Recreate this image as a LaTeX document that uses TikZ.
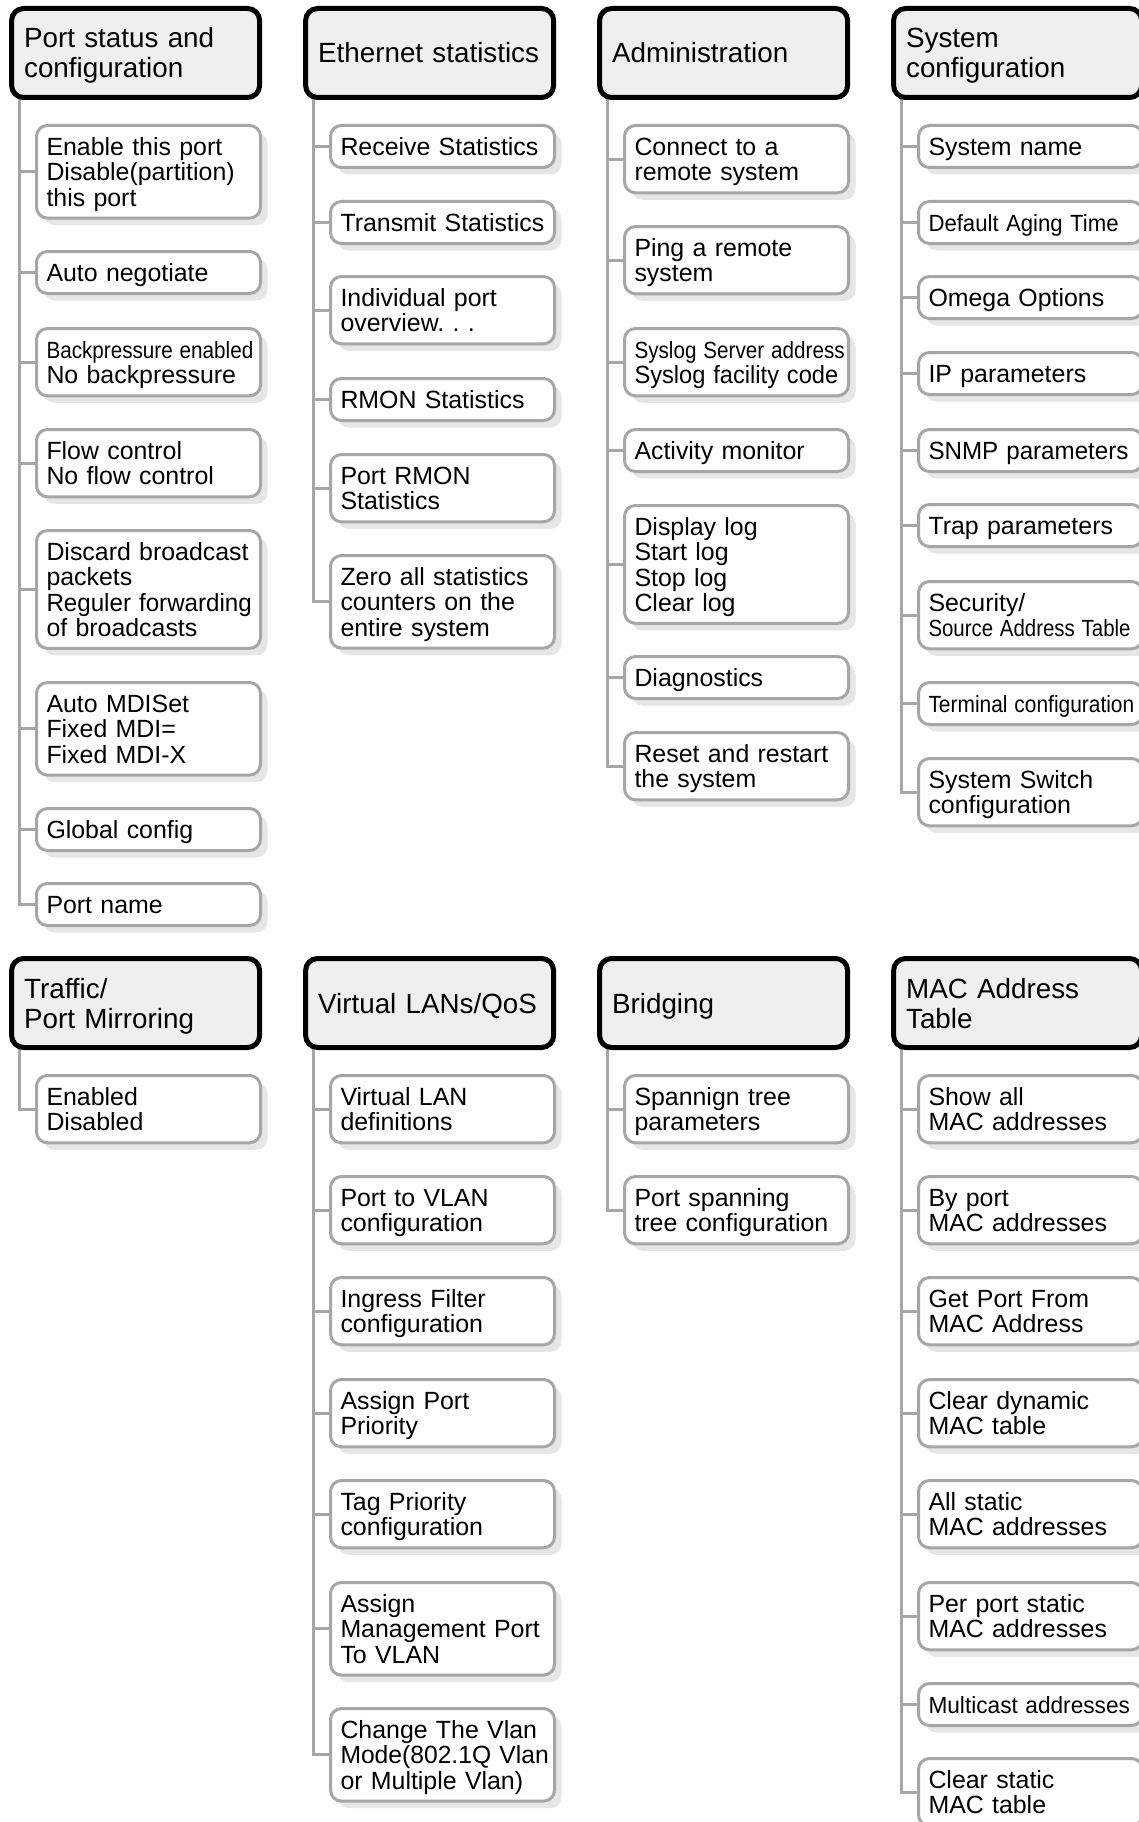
\documentclass[tikz,border=0pt]{standalone}
\usepackage{fontspec}
\setmainfont{Liberation Sans}
\usetikzlibrary{shadows,backgrounds}
\definecolor{hdrfill}{HTML}{EFEFEF}
\definecolor{boxline}{HTML}{A6A6A6}
\definecolor{shade}{HTML}{E6E6E6}
\newcommand{\cnd}[2]{\mbox{\scalebox{#1}[0.94]{#2}}}
\newcommand{\sx}[2]{\mbox{\scalebox{#1}[1]{#2}}}
\newcommand{\subtop}{\rule{0pt}{23pt}}
\newcommand{\subbot}{\rule[-5pt]{0pt}{5pt}}
\newcommand{\hdtop}{\rule{0pt}{26pt}}
\newcommand{\hdbot}{\rule[-6pt]{0pt}{6pt}}
\begin{document}
\begin{tikzpicture}[x=1pt,y=-1pt,
  hdr/.style={draw=black, line width=5pt, fill=hdrfill, rounded corners=12pt,
    minimum width=248pt, minimum height=89pt, text width=223pt, inner xsep=12.5pt,
    inner ysep=0pt, align=left, anchor=north,
    font=\fontsize{27.8}{30}\selectfont\frenchspacing,
    execute at begin node=\hdtop, execute at end node=\hdbot},
  sb/.style={draw=boxline, line width=3pt, fill=white, rounded corners=11pt,
    minimum width=224pt, text width=204pt, inner xsep=10pt, inner ysep=0pt,
    align=left, anchor=north, font=\fontsize{24.9}{25.3}\selectfont\frenchspacing,
    execute at begin node=\subtop, execute at end node=\subbot,
    drop shadow={shadow xshift=7pt, shadow yshift=-7pt, fill=shade, opacity=1}},
  l1/.style={sb, minimum height=42pt},
  l2/.style={sb, minimum height=67.3pt},
  l3/.style={sb, minimum height=92.6pt},
  l4/.style={sb, minimum height=117.9pt},
  tree/.style={draw=boxline, line width=3pt},
]
\path[use as bounding box] (0,0) rectangle (1139,1822);
\clip (0,0) rectangle (1139,1822);
\begin{pgfonlayer}{background}
\fill[white] (0,0) rectangle (1139,1822);
\end{pgfonlayer}

% ---------- headers ----------
\node[hdr] (hp) at (135.6,6) {Port status and\\configuration};
\node[hdr] (he) at (429.6,6) {Ethernet statistics};
\node[hdr] (ha) at (723.6,6) {Administration};
\node[hdr] (hs) at (1017.6,6) {System\\configuration};
\node[hdr] (ht) at (135.6,956) {Traffic/\\Port Mirroring};
\node[hdr] (hv) at (429.6,956) {Virtual LANs/QoS};
\node[hdr] (hg) at (723.6,956) {Bridging};
\node[hdr] (hm) at (1017.6,956) {MAC Address\\Table};

% ---------- Port status and configuration ----------
\node[l3] (p1) at (148.5,124) {Enable this port\\Disable(partition)\\this port};
\node[l1] (p2) at (148.5,250) {Auto negotiate};
\node[l2] (p3) at (148.5,327) {\cnd{0.83}{Backpressure enabled}\\No backpressure};
\node[l2] (p4) at (148.5,428) {Flow control\\No flow control};
\node[l4] (p5) at (148.5,529) {\mbox{Discard broadcast}\\packets\\\sx{0.97}{Reguler forwarding}\\of broadcasts};
\node[l3] (p6) at (148.5,681) {Auto MDISet\\Fixed MDI=\\Fixed MDI-X};
\node[l1] (p7) at (148.5,807) {Global config};
\node[l1] (p8) at (148.5,882) {Port name};

% ---------- Ethernet statistics ----------
\node[l1] (e1) at (442.5,124) {Receive Statistics};
\node[l1] (e2) at (442.5,200) {\mbox{Transmit Statistics}};
\node[l2] (e3) at (442.5,275) {Individual port\\overview. . .};
\node[l1] (e4) at (442.5,377) {RMON Statistics};
\node[l2] (e5) at (442.5,453) {Port RMON\\Statistics};
\node[l3] (e6) at (442.5,554) {Zero all statistics\\counters on the\\entire system};

% ---------- Administration ----------
\node[l2] (a1) at (736.5,124) {Connect to a\\remote system};
\node[l2] (a2) at (736.5,225) {Ping a remote\\system};
\node[l2] (a3) at (736.5,327) {\cnd{0.83}{Syslog Server address}\\\sx{0.95}{Syslog facility code}};
\node[l1] (a4) at (736.5,428) {Activity monitor};
\node[l4] (a5) at (736.5,504) {Display log\\Start log\\Stop log\\Clear log};
\node[l1] (a6) at (736.5,655) {Diagnostics};
\node[l2] (a7) at (736.5,731) {Reset and restart\\the system};

% ---------- System configuration ----------
\node[l1] (s1) at (1030.5,124) {System name};
\node[l1] (s2) at (1030.5,200) {\cnd{0.89}{Default Aging Time}};
\node[l1] (s3) at (1030.5,275) {Omega Options};
\node[l1] (s4) at (1030.5,351) {IP parameters};
\node[l1] (s5) at (1030.5,428) {\sx{0.97}{SNMP parameters}};
\node[l1] (s6) at (1030.5,503) {Trap parameters};
\node[l2] (s7) at (1030.5,580) {Security/\\\cnd{0.82}{Source Address Table}};
\node[l1] (s8) at (1030.5,681) {\cnd{0.84}{Terminal configuration}};
\node[l2] (s9) at (1030.5,757) {System Switch\\configuration};

% ---------- Traffic / Port Mirroring ----------
\node[l2] (t1) at (148.5,1074) {Enabled\\Disabled};

% ---------- Virtual LANs/QoS ----------
\node[l2] (v1) at (442.5,1074) {Virtual LAN\\definitions};
\node[l2] (v2) at (442.5,1175) {Port to VLAN\\configuration};
\node[l2] (v3) at (442.5,1276) {Ingress Filter\\configuration};
\node[l2] (v4) at (442.5,1378) {Assign Port\\Priority};
\node[l2] (v5) at (442.5,1479) {Tag Priority\\configuration};
\node[l3] (v6) at (442.5,1581) {Assign\\\mbox{Management Port}\\To VLAN};
\node[l3] (v7) at (442.5,1707) {Change The Vlan\\\sx{0.99}{Mode(802.1Q Vlan}\\or Multiple Vlan)};

% ---------- Bridging ----------
\node[l2] (g1) at (736.5,1074) {Spannign tree\\parameters};
\node[l2] (g2) at (736.5,1175) {Port spanning\\\mbox{tree configuration}};

% ---------- MAC Address Table ----------
\node[l2] (m1) at (1030.5,1074) {Show all\\MAC addresses};
\node[l2] (m2) at (1030.5,1175) {By port\\MAC addresses};
\node[l2] (m3) at (1030.5,1276) {Get Port From\\MAC Address};
\node[l2] (m4) at (1030.5,1378) {Clear dynamic\\MAC table};
\node[l2] (m5) at (1030.5,1479) {All static\\MAC addresses};
\node[l2] (m6) at (1030.5,1581) {Per port static\\MAC addresses};
\node[l1] (m7) at (1030.5,1682) {\cnd{0.91}{Multicast addresses}};
\node[l2] (m8) at (1030.5,1757) {Clear static\\MAC table};

% ---------- tree connectors ----------
\coordinate (kp) at ([xshift=10.5pt,yshift=6pt]hp.south west);
\coordinate (ke) at ([xshift=10.5pt,yshift=6pt]he.south west);
\coordinate (ka) at ([xshift=10.5pt,yshift=6pt]ha.south west);
\coordinate (ks) at ([xshift=10.5pt,yshift=6pt]hs.south west);
\coordinate (kt) at ([xshift=10.5pt,yshift=6pt]ht.south west);
\coordinate (kv) at ([xshift=10.5pt,yshift=6pt]hv.south west);
\coordinate (kg) at ([xshift=10.5pt,yshift=6pt]hg.south west);
\coordinate (km) at ([xshift=10.5pt,yshift=6pt]hm.south west);
\begin{pgfonlayer}{background}
\draw[tree] (kp) |- (p8.west);
\foreach \n in {p1,p2,p3,p4,p5,p6,p7} \draw[tree] (\n.west) -- (\n.west -| kp);
\draw[tree] (ke) |- (e6.west);
\foreach \n in {e1,e2,e3,e4,e5} \draw[tree] (\n.west) -- (\n.west -| ke);
\draw[tree] (ka) |- (a7.west);
\foreach \n in {a1,a2,a3,a4,a5,a6} \draw[tree] (\n.west) -- (\n.west -| ka);
\draw[tree] (ks) |- (s9.west);
\foreach \n in {s1,s2,s3,s4,s5,s6,s7,s8} \draw[tree] (\n.west) -- (\n.west -| ks);
\draw[tree] (kt) |- (t1.west);
\draw[tree] (kv) |- (v7.west);
\foreach \n in {v1,v2,v3,v4,v5,v6} \draw[tree] (\n.west) -- (\n.west -| kv);
\draw[tree] (kg) |- (g2.west);
\draw[tree] (g1.west) -- (g1.west -| kg);
\draw[tree] (km) |- (m8.west);
\foreach \n in {m1,m2,m3,m4,m5,m6,m7} \draw[tree] (\n.west) -- (\n.west -| km);
\end{pgfonlayer}
\end{tikzpicture}
\end{document}
